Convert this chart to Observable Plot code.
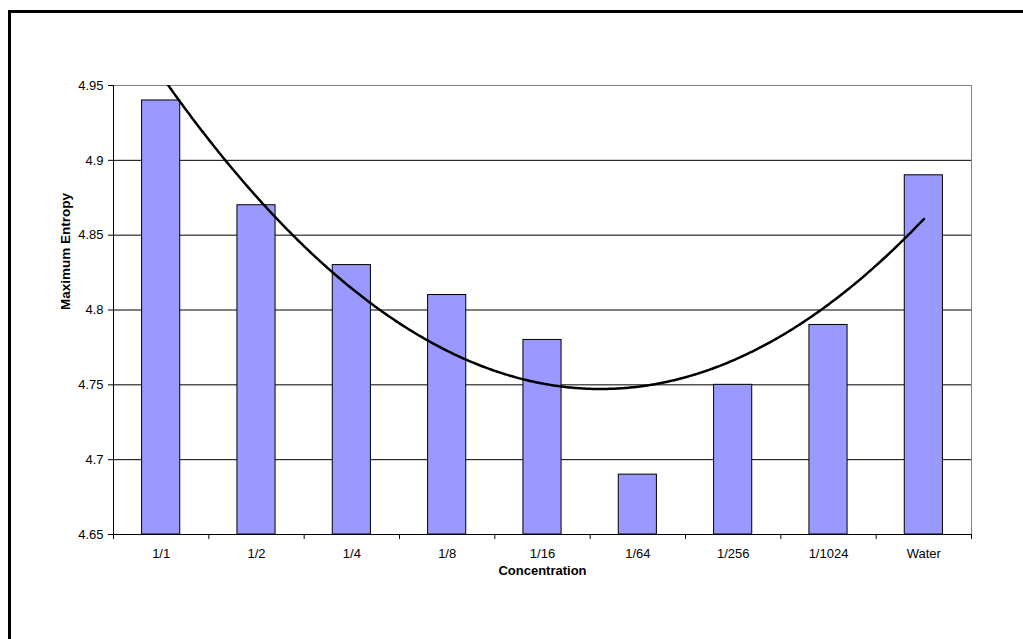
<!DOCTYPE html>
<html>
<head>
<meta charset="utf-8">
<script src="https://cdn.jsdelivr.net/npm/d3@7"></script>
<script src="https://cdn.jsdelivr.net/npm/@observablehq/plot@0.6"></script>
<style>
  html, body { margin: 0; padding: 0; background: #fff; overflow: hidden; }
  #wrap { position: relative; width: 1023px; height: 639px; overflow: hidden; }
  #chart { position: absolute; left: 0; top: 0; }
  .edge { position: absolute; background: #000; pointer-events: none; }
  #edgeTop { left: 8px; top: 10px; width: 3000px; height: 3px; }
  #edgeLeft { left: 8px; top: 10px; width: 3px; height: 3000px; }
  #cover { position: absolute; left: 1000px; top: 14px; width: 100px; height: 1000px; background: #fff; z-index: 10; }
</style>
</head>
<body>
<div id="wrap"><div id="chart"></div><div class="edge" id="edgeTop"></div><div class="edge" id="edgeLeft"></div><div id="cover"></div></div>
<script>
const categories = ["1/1", "1/2", "1/4", "1/8", "1/16", "1/64", "1/256", "1/1024", "Water"];
const values = [4.94, 4.87, 4.83, 4.81, 4.78, 4.69, 4.75, 4.79, 4.89];
const yTicks = [4.65, 4.7, 4.75, 4.8, 4.85, 4.9, 4.95];
const yTickLabels = ["4.65", "4.7", "4.75", "4.8", "4.85", "4.9", "4.95"];
const xTitle = "Concentration";
const yTitle = "Maximum Entropy";

const idx = categories.map((c, i) => i + 1);
const bars = categories.map((c, i) => ({cat: c, pos: i + 1, value: values[i]}));

// Polynomial (order 2) least-squares trendline, as the spreadsheet computes it
function polyfit2(xs, ys) {
  const S = [0, 0, 0, 0, 0], T = [0, 0, 0];
  xs.forEach((x, i) => {
    for (let k = 0; k < 5; k++) S[k] += x ** k;
    for (let k = 0; k < 3; k++) T[k] += ys[i] * x ** k;
  });
  const A = [[S[0], S[1], S[2]], [S[1], S[2], S[3]], [S[2], S[3], S[4]]];
  const det = m => m[0][0]*(m[1][1]*m[2][2]-m[1][2]*m[2][1]) - m[0][1]*(m[1][0]*m[2][2]-m[1][2]*m[2][0]) + m[0][2]*(m[1][0]*m[2][1]-m[1][1]*m[2][0]);
  const D = det(A);
  const coef = [0, 1, 2].map(j => det(A.map((row, r) => row.map((v, c) => c === j ? T[r] : v))) / D);
  return x => coef[0] + coef[1] * x + coef[2] * x * x;
}
const fit = polyfit2(idx, values);
const trend = d3.range(1, 9.0001, 0.02).map(x => ({x, y: fit(x)}));

const boundaries = d3.range(0.5, 9.51, 1);
const font = "'Liberation Sans', Arial, sans-serif";

const chart = Plot.plot({
  width: 1023,
  height: 639,
  marginLeft: 113,
  marginRight: 52,
  marginTop: 85,
  marginBottom: 105,
  style: {fontFamily: font, fontSize: "13px", background: "#fff", color: "#000"},
  x: {type: "linear", domain: [0.5, 9.5]},
  y: {domain: [4.65, 4.95]},
  marks: [
    Plot.ruleY(yTicks, {stroke: "#000", strokeWidth: 1}),
    Plot.frame({stroke: "#808080", strokeWidth: 1}),
    Plot.rectY(bars, {x1: d => d.pos - 0.2, x2: d => d.pos + 0.2, y1: 4.65, y2: "value",
                      fill: "#9999FF", stroke: "#000", strokeWidth: 1}),
    Plot.line(trend, {x: "x", y: "y", stroke: "#000", strokeWidth: 2.5, clip: true}),
    Plot.ruleX([0.5], {stroke: "#000", strokeWidth: 1}),
    Plot.ruleY([4.65], {stroke: "#000", strokeWidth: 1}),
    Plot.axisY({ticks: yTicks, tickFormat: (d) => yTickLabels[yTicks.indexOf(d)],
                tickSize: 5, tickPadding: 5, label: null, fontSize: 13}),
    Plot.axisX({ticks: boundaries, tickFormat: () => "", tickSize: 5, label: null}),
    Plot.axisX({ticks: idx, tickFormat: d => categories[d - 1], tickSize: 0, tickPadding: 14,
                label: null, fontSize: 13}),
    Plot.text([xTitle], {frameAnchor: "bottom", dy: 40, text: d => d, fontWeight: "bold",
                         fontSize: 13, fill: "#000"}),
    Plot.text([yTitle], {frameAnchor: "left", dx: -48, rotate: -90, text: d => d,
                         fontWeight: "bold", fontSize: 13.5, fill: "#000"})
  ]
});
document.getElementById("chart").appendChild(chart);
</script>
</body>
</html>
